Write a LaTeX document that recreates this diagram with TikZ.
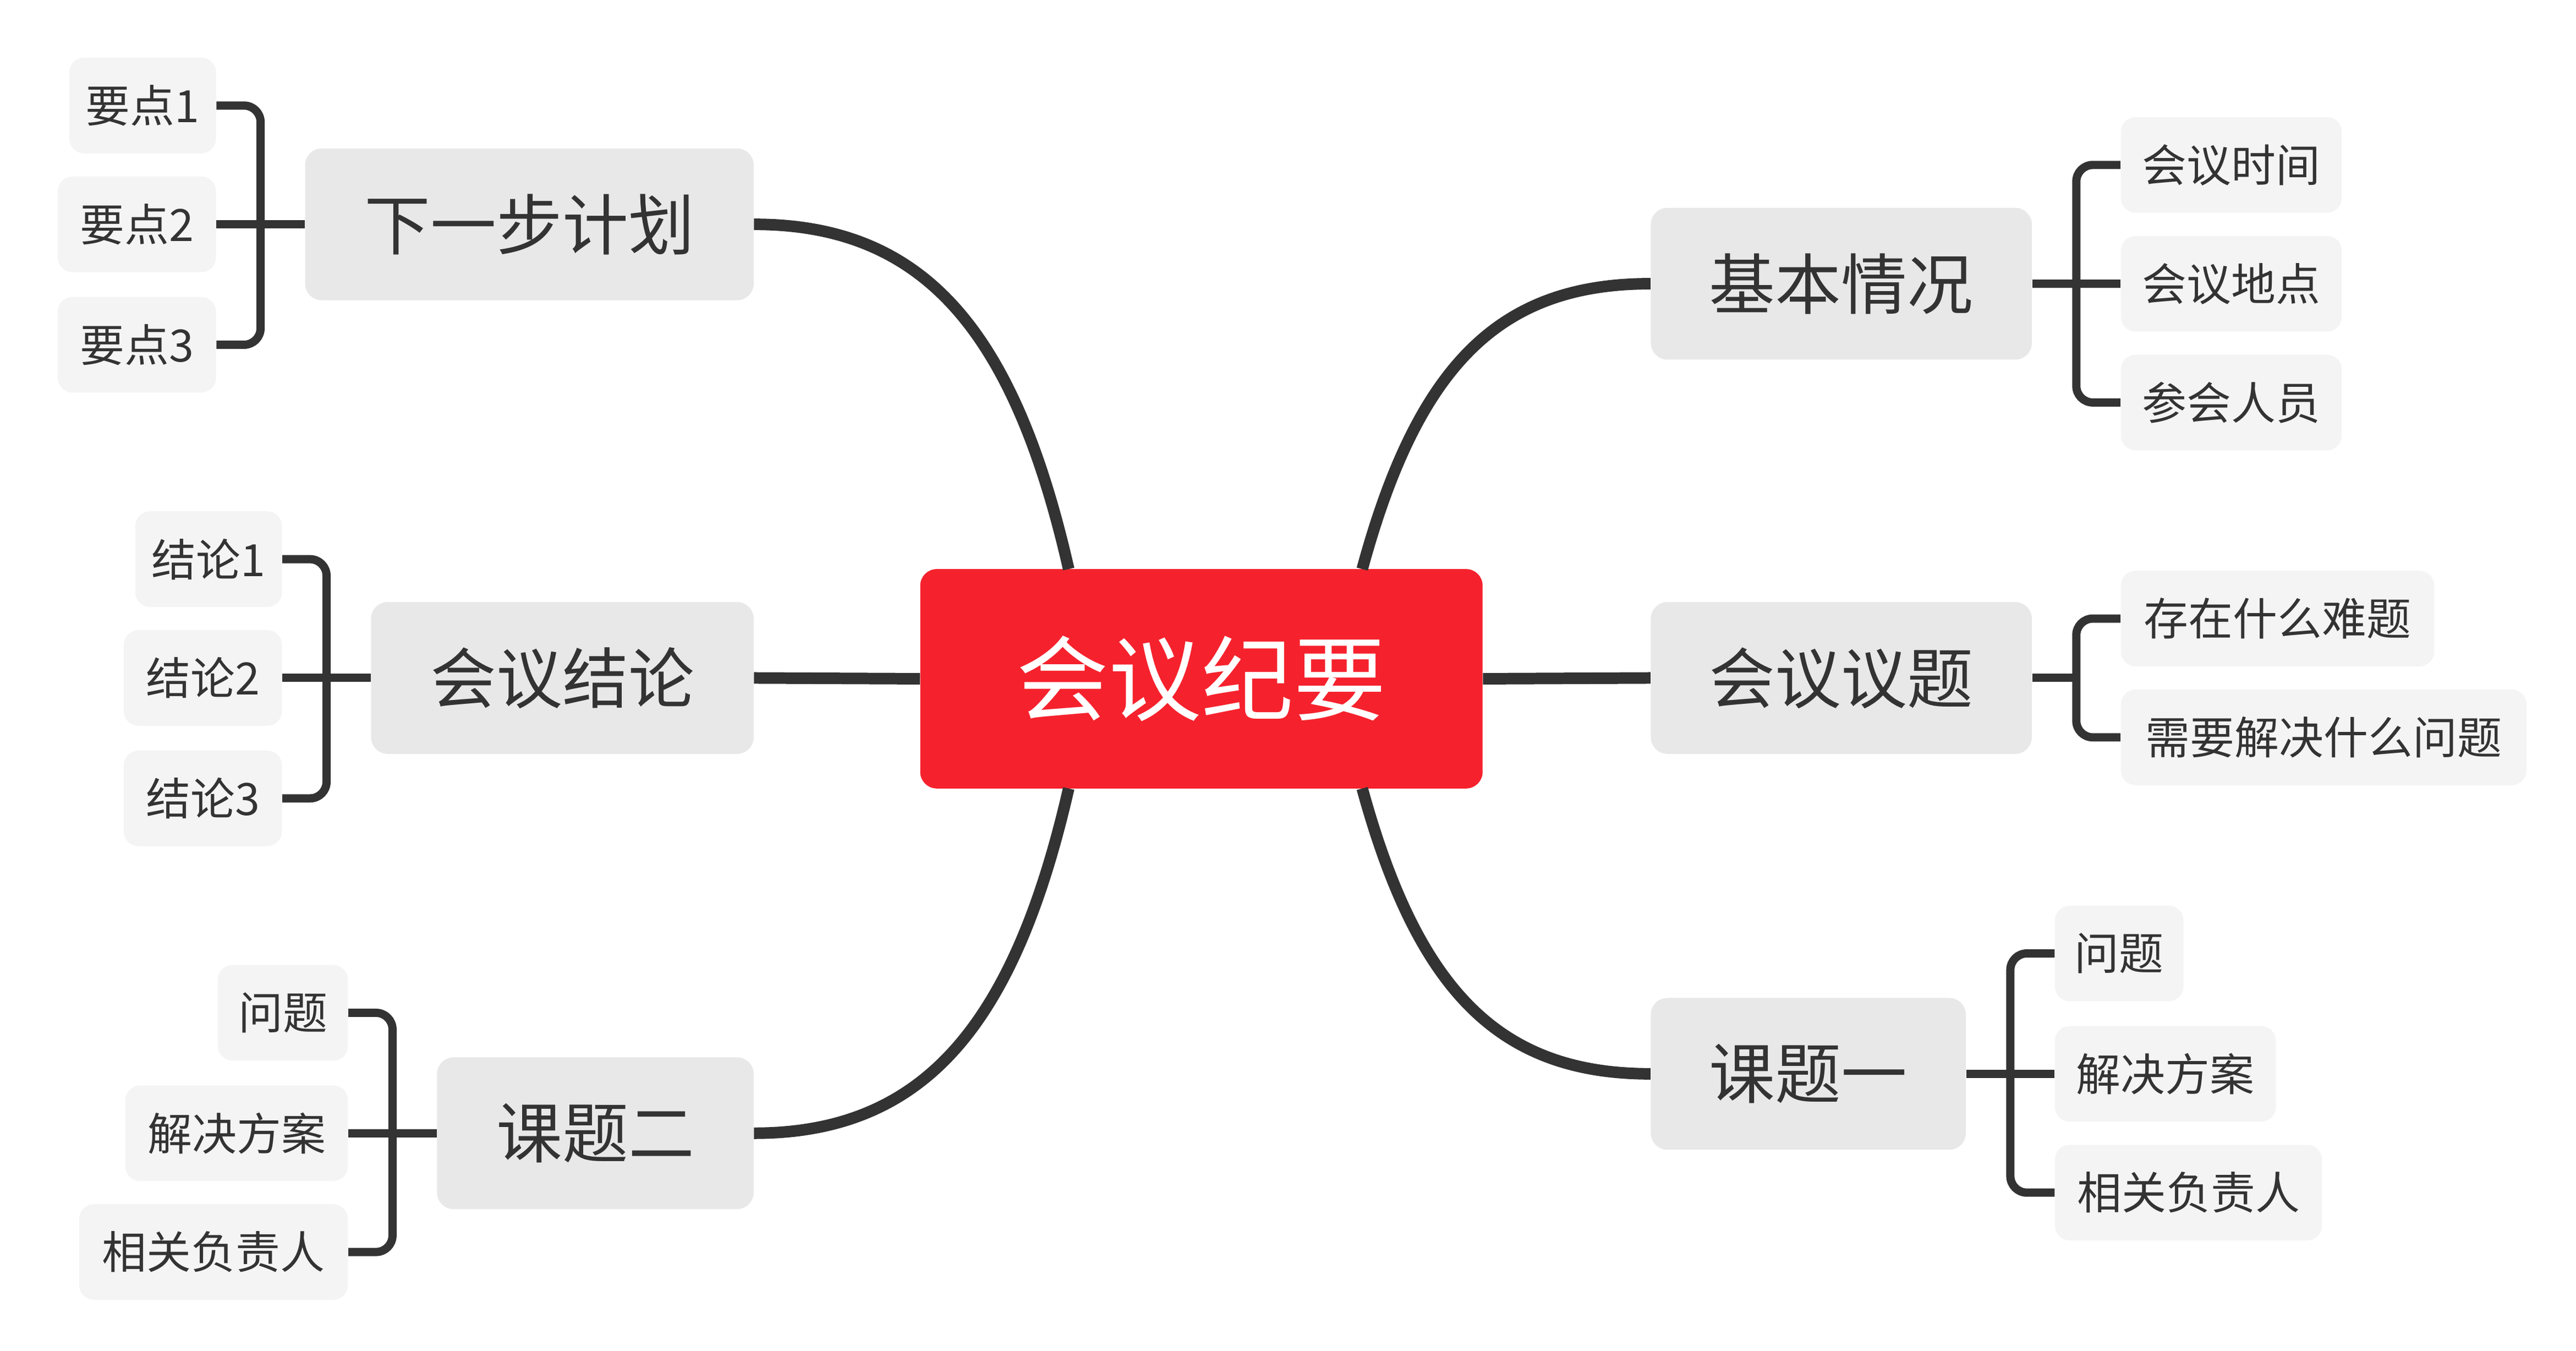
\documentclass[tikz,border=0pt]{standalone}
\usepackage{fontspec}
\setmainfont{Noto Sans CJK SC}
\usetikzlibrary{calc}
\definecolor{cred}{HTML}{F5222D}
\definecolor{ink}{HTML}{333333}
\definecolor{gA}{HTML}{E8E8E8}
\definecolor{gB}{HTML}{F4F4F4}
\tikzset{
 root/.style={fill=cred,rounded corners=10pt,minimum width=341pt,minimum height=133pt,text=white,font=\fontsize{56}{60}\selectfont,inner sep=0pt},
 topic/.style={fill=gA,rounded corners=10pt,minimum height=92pt,text=ink,font=\fontsize{40}{46}\selectfont,inner sep=0pt},
 leaf/.style={fill=gB,rounded corners=9pt,minimum height=58pt,text=ink,font=\fontsize{27}{32}\selectfont,inner sep=0pt},
 link/.style={draw=ink,line width=7pt},
 brace/.style={draw=ink,line width=5pt,rounded corners=10pt}
}
\begin{document}
\begin{tikzpicture}[x=1pt,y=-1pt]
\useasboundingbox (0,0) rectangle (1562,819);
\node[root] (c) at (728.5,411.5) {会议纪要};
\node[topic,minimum width=272pt] (t1) at (321,136) {下一步计划};
\node[topic,minimum width=232pt] (t2) at (341,411) {会议结论};
\node[topic,minimum width=192pt] (t3) at (361,687) {课题二};
\node[topic,minimum width=231pt] (t4) at (1116.5,172) {基本情况};
\node[topic,minimum width=231pt] (t5) at (1116.5,411) {会议议题};
\node[topic,minimum width=191pt] (t6) at (1096.5,651) {课题一};
% connectors
\coordinate (cnw) at (648,345); \coordinate (cne) at (826,345);
\coordinate (csw) at (648,478); \coordinate (cse) at (826,478);
\draw[link] (cnw) .. controls (615,200) and (560,136) .. (t1.east);
\draw[link] (c.west) -- (t2.east);
\draw[link] (csw) .. controls (615,622) and (560,687) .. (t3.east);
\draw[link] (cne) .. controls (860,220) and (910,172) .. (t4.west);
\draw[link] (c.east) -- (t5.west);
\draw[link] (cse) .. controls (860,602) and (910,651) .. (t6.west);
% leaves left
\node[leaf,minimum width=89pt] (a1) at (86.5,64) {要点1};
\node[leaf,minimum width=96pt] (a2) at (83,136) {要点2};
\node[leaf,minimum width=96pt] (a3) at (83,209) {要点3};
\node[leaf,minimum width=89pt] (b1) at (126.5,339) {结论1};
\node[leaf,minimum width=96pt] (b2) at (123,411) {结论2};
\node[leaf,minimum width=96pt] (b3) at (123,484) {结论3};
\node[leaf,minimum width=79pt] (d1) at (171.5,614) {问题};
\node[leaf,minimum width=135pt] (d2) at (143.5,687) {解决方案};
\node[leaf,minimum width=163pt] (d3) at (129.5,759) {相关负责人};
% leaves right
\node[leaf,minimum width=134pt] (e1) at (1353,100) {会议时间};
\node[leaf,minimum width=134pt] (e2) at (1353,172) {会议地点};
\node[leaf,minimum width=134pt] (e3) at (1353,244) {参会人员};
\node[leaf,minimum width=190pt] (f1) at (1381,375) {存在什么难题};
\node[leaf,minimum width=246pt] (f2) at (1409,447) {需要解决什么问题};
\node[leaf,minimum width=78pt] (g1) at (1285,578) {问题};
\node[leaf,minimum width=134pt] (g2) at (1313,651) {解决方案};
\node[leaf,minimum width=162pt] (g3) at (1327,723) {相关负责人};
% braces
\coordinate (ba) at (158,136);
\draw[brace] (a1.east) -| (ba) |- (a3.east);
\draw[brace,rounded corners=0pt] (a2.east) -- (t1.west);
\coordinate (bb) at (198,411);
\draw[brace] (b1.east) -| (bb) |- (b3.east);
\draw[brace,rounded corners=0pt] (b2.east) -- (t2.west);
\coordinate (bd) at (238,687);
\draw[brace] (d1.east) -| (bd) |- (d3.east);
\draw[brace,rounded corners=0pt] (d2.east) -- (t3.west);
\coordinate (be) at (1259,172);
\draw[brace] (e1.west) -| (be) |- (e3.west);
\draw[brace,rounded corners=0pt] (t4.east) -- (e2.west);
\coordinate (bf) at (1259,411);
\draw[brace] (f1.west) -| (bf) |- (f2.west);
\draw[brace,rounded corners=0pt] (t5.east) -- (bf);
\coordinate (bg) at (1219,651);
\draw[brace] (g1.west) -| (bg) |- (g3.west);
\draw[brace,rounded corners=0pt] (t6.east) -- (g2.west);
\end{tikzpicture}
\end{document}
